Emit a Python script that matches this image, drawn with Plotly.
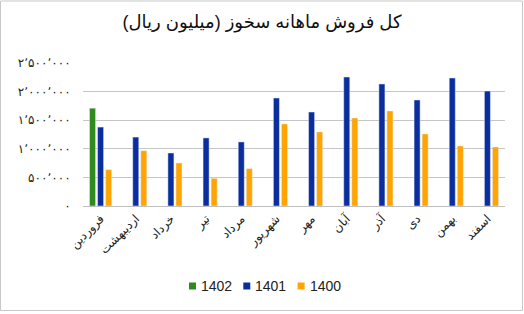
import plotly.graph_objects as go

months = ["فروردین", "اردیبهشت", "خرداد", "تیر", "مرداد", "شهریور",
          "مهر", "آبان", "آذر", "دی", "بهمن", "اسفند"]
s1402 = [1710000, None, None, None, None, None, None, None, None, None, None, None]
s1401 = [1380000, 1205000, 927000, 1190000, 1120000, 1888000,
         1643000, 2255000, 2133000, 1853000, 2238000, 2010000]
s1400 = [635000, 967000, 752000, 484000, 653000, 1434000,
         1294000, 1538000, 1661000, 1259000, 1049000, 1031000]
series_names = ["1402", "1401", "1400"]
series_colors = ["#2e8b1c", "#0a2e9e", "#ffa400"]
tick_vals = [0, 500000, 1000000, 1500000, 2000000, 2500000]
tick_text = ["۰", "۵۰۰٬۰۰۰", "۱٬۰۰۰٬۰۰۰", "۱٬۵۰۰٬۰۰۰", "۲٬۰۰۰٬۰۰۰", "۲٬۵۰۰٬۰۰۰"]
title = "کل فروش ماهانه سخوز (میلیون ریال)"

fig = go.Figure()
for name, vals, col in zip(series_names, [s1402, s1401, s1400], series_colors):
    fig.add_bar(x=months, y=vals, name=name, marker_color=col, showlegend=False)

L, R, T, B = 83, 19, 63, 108
W, H = 524, 314
pw, ph = W - L - R, H - T - B


def px_x(p):
    return (p - L) / pw


def px_y(p):
    return (206 - p) / ph


shapes = [dict(type="rect", xref="paper", yref="paper",
               x0=px_x(0.5), x1=px_x(522.5), y0=px_y(310.5), y1=px_y(1),
               line=dict(color="#c8c8c8", width=1))]
annotations = []
# manual legend
leg_y = 286
for i, (name, col) in enumerate(zip(series_names, series_colors)):
    x0 = 189 + i * 54.3
    shapes.append(dict(type="rect", xref="paper", yref="paper",
                       x0=px_x(x0), x1=px_x(x0 + 7), y0=px_y(leg_y + 3.5), y1=px_y(leg_y - 3.5),
                       fillcolor=col, line=dict(width=0)))
    annotations.append(dict(text=name, xref="paper", yref="paper", x=px_x(x0 + 10),
                            y=px_y(leg_y), xanchor="left", yanchor="middle", showarrow=False,
                            font=dict(size=14, color="#222")))

fig.update_layout(
    width=W, height=H,
    margin=dict(l=L, r=R, t=T, b=B),
    paper_bgcolor="white", plot_bgcolor="white",
    barmode="group", bargap=0.314, bargroupgap=0.25,
    font=dict(family="Arial, DejaVu Sans, sans-serif", color="#222"),
    title=dict(text=title, x=0.5, xanchor="center", y=1 - 22 / H, yanchor="middle",
               font=dict(size=18, color="#111")),
    showlegend=False,
    xaxis=dict(tickangle=-45, tickfont=dict(size=12, color="#222"),
               showline=True, linecolor="#bfbfbf", ticks=""),
    yaxis=dict(range=[0, 2500000], tickvals=tick_vals, ticktext=tick_text,
               showgrid=True, gridcolor="#c6c6c6", gridwidth=1,
               tickfont=dict(size=12, color="#222"), zeroline=False,
               ticks="outside", ticklen=9, tickcolor="white"),
    shapes=shapes,
    annotations=annotations,
)
fig.write_html("out.html")
